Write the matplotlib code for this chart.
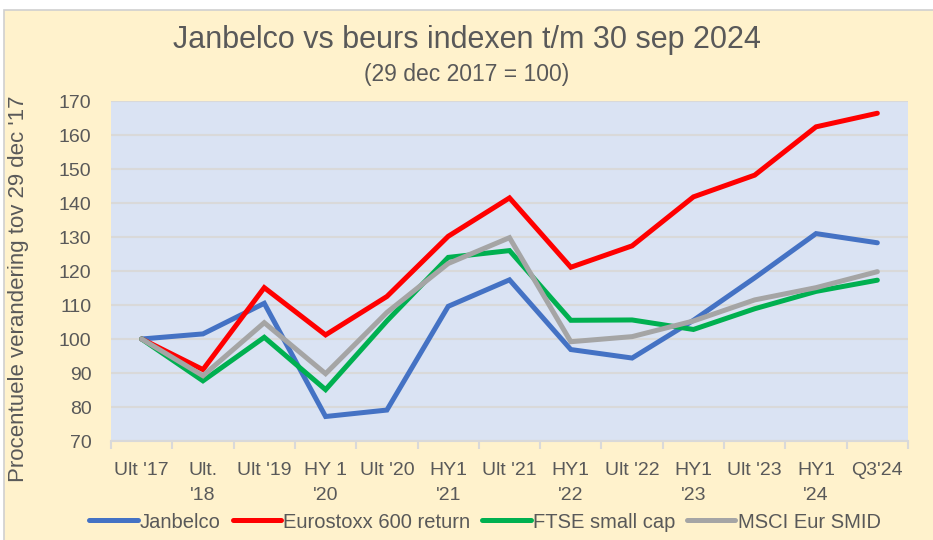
import matplotlib.pyplot as plt
from matplotlib.patches import Rectangle
import numpy as np

# --- DATA ---
periods = ["Ult '17", "Ult.\n'18", "Ult '19", "HY 1\n'20", "Ult '20", "HY1\n'21", "Ult '21",
           "HY1\n'22", "Ult '22", "HY1\n'23", "Ult '23", "HY1\n'24", "Q3'24"]

janbelco = [100, 101.5, 110.5, 77.2, 79.1, 109.6, 117.4, 96.9, 94.4, 105.5, 118.0, 131.0, 128.3]
eurostoxx = [100, 91.0, 115.1, 101.2, 112.5, 130.2, 141.5, 121.1, 127.4, 141.8, 148.2, 162.4, 166.4]
ftse_small = [100, 87.7, 100.5, 85.1, 105.3, 124.0, 126.0, 105.5, 105.6, 102.8, 108.9, 114.0, 117.3]
msci_smid = [100, 89.2, 104.8, 89.8, 107.8, 122.2, 129.8, 99.2, 100.7, 105.3, 111.5, 115.1, 119.8]

series_names = ['Janbelco', 'Eurostoxx 600 return', 'FTSE small cap', 'MSCI Eur SMID']
series_colors = ['#4472C4', '#FF0000', '#00B050', '#A5A5A5']

# --- STYLE ---
plt.rcParams['font.family'] = ['Liberation Sans', 'DejaVu Sans']
text_color = '#595959'

fig = plt.figure(figsize=(9.33, 5.4), dpi=100)
fig.patch.set_facecolor('white')

# cream chart area with thin grey border (behind everything)
fig.patches.append(Rectangle((4 / 933, -0.01), 1, 1 - 10 / 540 + 0.01, transform=fig.transFigure,
                             facecolor='#FFF2CC', edgecolor='#D0D0D0', linewidth=1.2, zorder=-10))

ax = fig.add_axes([111 / 933, 99 / 540, 797 / 933, 340 / 540])
ax.set_facecolor('#DAE3F3')

x = np.arange(len(periods))
all_series = [janbelco, eurostoxx, ftse_small, msci_smid]
for vals, name, col in zip(all_series, series_names, series_colors):
    ax.plot(x, vals, color=col, linewidth=3.6, label=name, solid_capstyle='round',
            solid_joinstyle='miter', zorder=3)

ax.set_xlim(-0.5, len(periods) - 0.5)
ax.set_ylim(70, 170)
ax.set_yticks(range(70, 171, 10))
ax.grid(axis='y', color='#D9D9D9', linewidth=1.5, zorder=1)
ax.set_axisbelow(True)

for s in ['top', 'right', 'left']:
    ax.spines[s].set_visible(False)
ax.spines['bottom'].set_color('#D9D9D9')
ax.spines['bottom'].set_linewidth(1.5)

ax.set_xticks(x)
ax.set_xticklabels(periods, fontsize=14, color=text_color, linespacing=1.6)
ax.set_xticks(np.arange(-0.5, len(periods), 1), minor=True)
ax.tick_params(axis='x', which='major', length=0, pad=15)
ax.tick_params(axis='x', which='minor', length=6, width=1.5, color='#D9D9D9')
ax.tick_params(axis='y', length=0, pad=14, labelsize=14, labelcolor=text_color)

# titles
fig.text(0.5, 1 - 40 / 540, 'Janbelco vs beurs indexen t/m 30 sep 2024', ha='center', va='center',
         fontsize=22, color=text_color)
fig.text(0.5, 1 - 75 / 540, '(29 dec 2017 = 100)', ha='center', va='center',
         fontsize=16.5, color=text_color)

# y axis label
fig.text(19 / 933, 1 - 289 / 540, "Procentuele verandering tov 29 dec '17", rotation=90,
         ha='center', va='center', fontsize=16, color=text_color)

# legend at the bottom
leg = fig.legend(loc='center', bbox_to_anchor=(485 / 933, 1 - 522 / 540), ncol=4, frameon=False,
                 fontsize=14.5, handlelength=2.4, handletextpad=0.1, columnspacing=0.6)
for t in leg.get_texts():
    t.set_color(text_color)

plt.savefig('out.png', dpi=100)
